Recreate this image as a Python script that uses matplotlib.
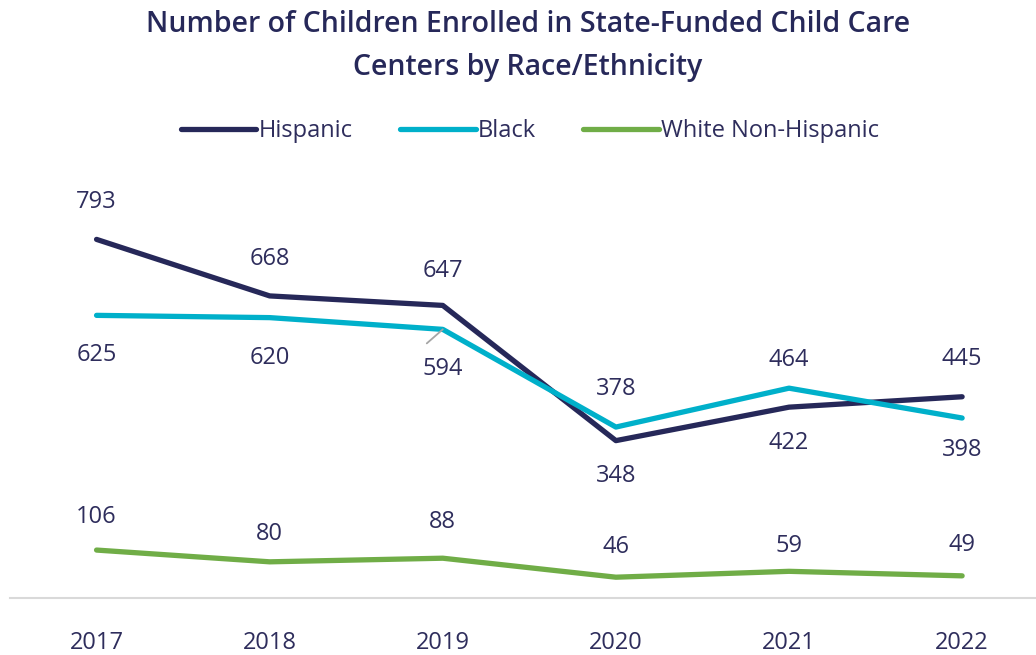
import matplotlib.pyplot as plt

# data
years = ["2017", "2018", "2019", "2020", "2021", "2022"]
hispanic = [793, 668, 647, 348, 422, 445]
black = [625, 620, 594, 378, 464, 398]
white = [106, 80, 88, 46, 59, 49]

# label offsets in pixels (positive = above the point)
hisp_off = [37, 37, 34, -35, -36, 38]
black_off = [-40, -40, -40, 38, 28, -32]
white_off = [33, 28, 36, 30, 25, 31]

navy = "#262859"
cyan = "#00B0CA"
green = "#70AD47"
text_col = "#2E2D5C"

plt.rcParams['font.family'] = ['Open Sans', 'DejaVu Sans']

fig = plt.figure(figsize=(10.36, 6.55), dpi=100)
ax = fig.add_axes([10 / 1036, (655 - 598) / 655, 1 - 10 / 1036, 407 / 655])

x = list(range(len(years)))
series = [
    ("Hispanic", hispanic, navy, hisp_off),
    ("Black", black, cyan, black_off),
    ("White Non-Hispanic", white, green, white_off),
]
for name, vals, col, offs in series:
    ax.plot(x, vals, color=col, lw=3.8, label=name, solid_capstyle='round')
    for xi, v, o in zip(x, vals, offs):
        ax.annotate(str(v), (xi, v), xytext=(0, o * 0.72), textcoords='offset points',
                    ha='center', va='center', fontsize=17, color=text_col)

# leader line for 594
ax.annotate("", xy=(2, black[2]), xytext=(-16 * 0.72, -14 * 0.72),
            textcoords='offset points',
            arrowprops=dict(arrowstyle='-', color='#A6A6A6', lw=1.3,
                            shrinkA=0, shrinkB=0))

ax.set_xlim(-0.5, 5 + (1036 - 962) / 173.4)
ax.set_ylim(0, 900)
ax.set_xticks(x)
ax.set_xticklabels(years, fontsize=17, color=text_col)
ax.tick_params(axis='x', length=0, pad=24)
ax.set_yticks([])
for s in ['top', 'left', 'right']:
    ax.spines[s].set_visible(False)
ax.spines['bottom'].set_color('#D9D9D9')
ax.spines['bottom'].set_linewidth(1.5)

fig.text(528, 655 - 24, "Number of Children Enrolled in State-Funded Child Care",
         transform=None, ha='center', va='center', fontsize=20.5,
         fontweight='semibold', color=navy)
fig.text(528, 655 - 68, "Centers by Race/Ethnicity", transform=None,
         ha='center', va='center', fontsize=20.5, fontweight='semibold', color=navy)

leg = fig.legend(loc='center', bbox_to_anchor=(530 / 1036, 1 - 131 / 655), ncol=3,
                 frameon=False, fontsize=17, handlelength=3.2, handletextpad=0.1,
                 columnspacing=2.0)
for t in leg.get_texts():
    t.set_color(text_col)

fig.savefig("out.png", dpi=100)
